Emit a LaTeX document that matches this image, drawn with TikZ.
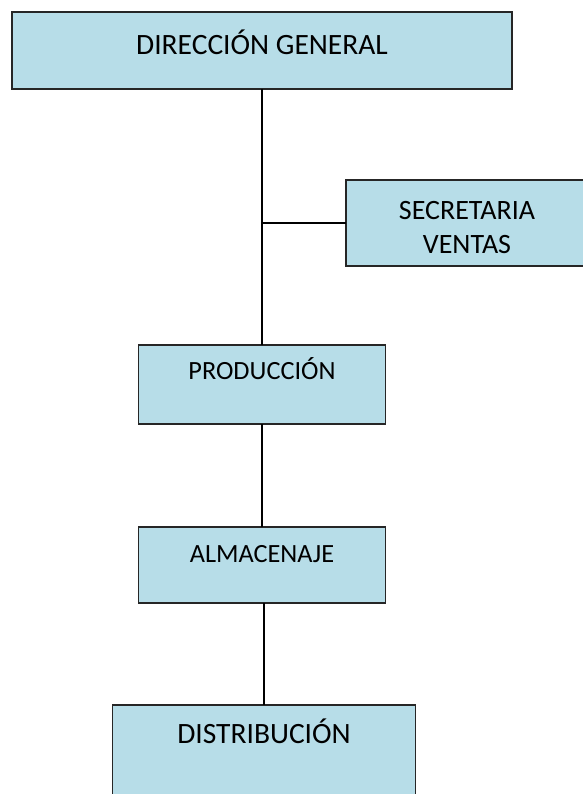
\documentclass[tikz,border=0pt]{standalone}
\usepackage{fontspec}
\setmainfont{Carlito}
\usepackage{tikz}
\usetikzlibrary{positioning}
\definecolor{boxblue}{HTML}{B7DDE8}
\tikzset{
  orgbox/.style={draw=black!85, fill=boxblue, line width=1.3pt, inner sep=0pt, outer sep=0pt, align=center},
  bigtxt/.style={font=\fontsize{29.5}{34}\selectfont},
  midtxt/.style={font=\fontsize{28}{34}\selectfont},
  smalltxt/.style={font=\fontsize{26.3}{31}\selectfont},
  link/.style={line width=1.2pt, black},
}

\begin{document}
\begin{tikzpicture}[x=1pt, y=-1pt]
  \useasboundingbox (0,0) rectangle (582,794);

  \node[orgbox, bigtxt, anchor=north west, minimum width=500pt, text height=43pt, text depth=34pt] (dir) at (12,12) {DIRECCIÓN GENERAL};
  % two lines: the node baseline is the last one
  \node[orgbox, midtxt, anchor=north west, minimum width=242pt, text height=73pt, text depth=13pt] (sec) at (346,180) {SECRETARIA\\VENTAS};
  \node[orgbox, smalltxt, below=256pt of dir, minimum width=247pt, text height=34pt, text depth=45pt] (prod) {PRODUCCIÓN};
  \node[orgbox, smalltxt, below=103pt of prod, minimum width=247pt, text height=35pt, text depth=41pt] (alm) {ALMACENAJE};
  \node[orgbox, bigtxt, below=102pt of alm, xshift=2pt, minimum width=303pt, text height=38pt, text depth=70pt] (dist) {DISTRIBUCIÓN};

  \draw[link] (dir.south) -- (prod.north);
  \draw[link] (sec.west) -- (sec.west -| dir.south);
  \draw[link] (prod.south) -- (alm.north);
  \draw[link] (dist.north |- alm.south) -- (dist.north);
\end{tikzpicture}
\end{document}
